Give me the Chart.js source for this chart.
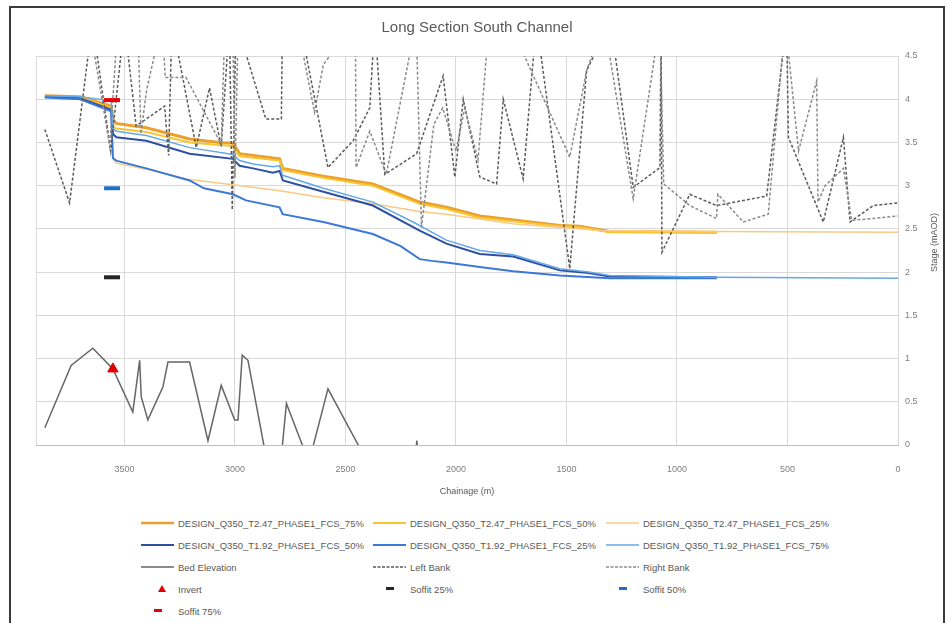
<!DOCTYPE html>
<html>
<head>
<meta charset="utf-8">
<script src="https://cdn.jsdelivr.net/npm/chart.js@4"></script>
<style>
  html, body { margin: 0; padding: 0; background: #fff; }
  body { width: 950px; height: 623px; overflow: hidden; position: relative; font-family: "Liberation Sans", Arial, sans-serif; }
  #frame { position: absolute; left: 9px; top: 6px; width: 936px; height: 640px; border: 2px solid #3a3a3a; box-sizing: border-box; }
  #chart { position: absolute; left: 0; top: 0; }
  .item { position: absolute; height: 14px; display: flex; align-items: center; font-size: 9.5px; color: #595959; white-space: nowrap; }
  .item svg { position: absolute; }
</style>
</head>
<body>
<div id="frame"></div>
<canvas id="chart" width="950" height="500"></canvas>
<div id="legend"></div>
<script>
// chainage (m) / stage (mAOD)
const t247_75_ch = [3860, 3700, 3560, 3550, 3537, 3401, 3205, 3069, 3009, 2979, 2798, 2784, 2600, 2377, 2164, 2043, 1892, 1530, 1440, 1304, 820];
const t247_75_st = [4.04, 4.03, 3.92, 3.76, 3.72, 3.67, 3.54, 3.50, 3.49, 3.37, 3.31, 3.20, 3.11, 3.02, 2.81, 2.75, 2.65, 2.54, 2.53, 2.47, 2.46];

const t247_50_ch = [3860, 3700, 3560, 3550, 3537, 3401, 3205, 3069, 3009, 2979, 2798, 2784, 2600, 2377, 2164, 2043, 1892, 1530, 1440, 1304, 820];
const t247_50_st = [4.03, 4.02, 3.90, 3.68, 3.66, 3.62, 3.50, 3.47, 3.46, 3.34, 3.29, 3.18, 3.09, 3.00, 2.79, 2.73, 2.63, 2.53, 2.52, 2.46, 2.46];

const t247_25_ch = [3860, 3700, 3560, 3550, 3537, 3401, 3205, 3009, 2798, 2600, 2376, 2164, 2043, 1742, 1349, 1000, 820, 0];
const t247_25_st = [4.02, 4.00, 3.87, 3.30, 3.26, 3.19, 3.07, 3.01, 2.94, 2.86, 2.79, 2.70, 2.67, 2.56, 2.48, 2.47, 2.47, 2.46];

const t192_50_ch = [3860, 3700, 3560, 3552, 3537, 3401, 3205, 3009, 2979, 2918, 2828, 2798, 2783, 2600, 2376, 2164, 2043, 1892, 1741, 1530, 1400, 1304, 820];
const t192_50_st = [4.03, 4.01, 3.88, 3.60, 3.56, 3.52, 3.37, 3.31, 3.23, 3.20, 3.15, 3.17, 3.06, 2.93, 2.77, 2.48, 2.33, 2.21, 2.18, 2.02, 1.99, 1.95, 1.94];

const t192_25_ch = [3860, 3700, 3560, 3552, 3537, 3401, 3205, 3140, 3009, 2950, 2798, 2784, 2600, 2376, 2250, 2164, 2110, 2043, 1892, 1741, 1530, 1304, 820];
const t192_25_st = [4.02, 4.00, 3.86, 3.32, 3.29, 3.20, 3.06, 2.97, 2.90, 2.83, 2.75, 2.67, 2.58, 2.44, 2.30, 2.15, 2.13, 2.11, 2.06, 2.01, 1.96, 1.93, 1.93];

const t192_75_ch = [3860, 3700, 3560, 3552, 3537, 3401, 3205, 3009, 2979, 2918, 2828, 2798, 2784, 2600, 2376, 2194, 2043, 1892, 1741, 1530, 1400, 1304, 820, 0];
const t192_75_st = [4.04, 4.03, 3.98, 3.66, 3.63, 3.58, 3.44, 3.36, 3.29, 3.25, 3.22, 3.23, 3.12, 2.97, 2.81, 2.58, 2.37, 2.25, 2.20, 2.04, 2.00, 1.96, 1.94, 1.93];

const bed_ch = [3860, 3741, 3643, 3552, 3462, 3431, 3424, 3394, 3326, 3303, 3205, 3122, 3062, 3001, 2986, 2967, 2941, 2840, 2800, 2767, 2665, 2579, 2400, 2190, 2177, 2165, 2000, 1000, 0];
const bed_st = [0.20, 0.92, 1.12, 0.88, 0.38, 0.98, 0.56, 0.29, 0.67, 0.96, 0.96, 0.05, 0.69, 0.29, 0.29, 1.04, 0.98, -0.40, -0.40, 0.48, -0.20, 0.65, -0.20, -0.30, 0.05, -0.30, -0.50, -0.60, -0.60];

const leftBank_ch = [3860, 3748, 3645, 3562, 3500, 3447, 3318, 3300, 3285, 3175, 3115, 3062, 3025, 3012, 2995, 2860, 2790, 2785, 2707, 2579, 2465, 2390, 2367, 2322, 2178, 2058, 2005, 1967, 1892, 1816, 1786, 1696, 1636, 1485, 1409, 1300, 1198, 1077, 1072, 1068, 942, 821, 594, 504, 496, 338, 247, 217, 112, 0];
const leftBank_st = [3.65, 2.80, 4.90, 3.40, 4.90, 3.69, 3.92, 3.35, 4.90, 3.44, 4.13, 3.45, 4.90, 2.72, 4.90, 3.77, 3.77, 4.90, 4.90, 3.21, 3.52, 3.90, 4.90, 3.13, 3.37, 4.27, 3.10, 4.00, 3.10, 3.02, 4.00, 3.08, 4.90, 2.04, 4.33, 4.90, 2.98, 3.21, 4.90, 2.23, 2.90, 2.77, 2.88, 4.90, 3.56, 2.58, 3.56, 2.58, 2.77, 2.80];

const rightBank_ch = [3860, 3660, 3566, 3530, 3440, 3425, 3400, 3330, 3315, 3221, 3062, 3045, 3010, 3000, 2985, 2900, 2720, 2640, 2600, 2455, 2452, 2390, 2315, 2180, 2156, 2100, 2060, 2000, 1960, 1900, 1850, 1760, 1485, 1409, 1330, 1198, 1077, 1060, 942, 821, 815, 700, 587, 510, 450, 368, 362, 330, 247, 210, 112, 0];
const rightBank_st = [4.90, 4.90, 3.45, 4.90, 4.90, 3.60, 4.10, 4.90, 4.25, 4.25, 3.48, 4.90, 4.90, 3.09, 4.90, 4.90, 4.90, 3.85, 4.40, 4.90, 3.21, 3.63, 3.13, 4.90, 2.52, 3.71, 3.90, 3.40, 3.90, 3.30, 4.90, 4.90, 3.33, 4.33, 4.90, 2.85, 4.90, 3.02, 2.77, 2.62, 2.90, 2.58, 2.67, 4.90, 3.40, 4.21, 2.81, 3.00, 3.20, 2.60, 2.62, 2.65];

const invert_ch = [3552];
const invert_st = [0.88];
const soffit25_ch = [3556];
const soffit25_st = [1.94];
const soffit50_ch = [3556];
const soffit50_st = [2.97];
const soffit75_ch = [3556];
const soffit75_st = [3.99];

const xTicks = [0, 500, 1000, 1500, 2000, 2500, 3000, 3500];

Chart.defaults.font.family = '"Liberation Sans", Arial, sans-serif';
Chart.defaults.color = '#595959';

function pts(ch, st) {
  return ch.map((c, i) => ({ x: c, y: st[i] }));
}

function lineSet(label, ch, st, color, width, dash) {
  return {
    label: label,
    data: pts(ch, st),
    borderColor: color,
    backgroundColor: color,
    borderWidth: width,
    borderDash: dash || [],
    pointRadius: 0,
    pointHoverRadius: 0,
    tension: 0,
    fill: false
  };
}

function markerSet(label, ch, st, color, style, radius, bw) {
  return {
    label: label,
    data: pts(ch, st),
    showLine: false,
    pointStyle: style,
    pointRadius: radius,
    pointHoverRadius: radius,
    pointBorderWidth: bw,
    pointBackgroundColor: color,
    pointBorderColor: color,
    borderColor: color,
    backgroundColor: color
  };
}

const datasets = [
  lineSet('DESIGN_Q350_T2.47_PHASE1_FCS_75%', t247_75_ch, t247_75_st, '#EBA02C', 3),
  lineSet('DESIGN_Q350_T2.47_PHASE1_FCS_50%', t247_50_ch, t247_50_st, '#F7C531', 2),
  lineSet('DESIGN_Q350_T2.47_PHASE1_FCS_25%', t247_25_ch, t247_25_st, '#F7CB84', 1.5),
  lineSet('DESIGN_Q350_T1.92_PHASE1_FCS_50%', t192_50_ch, t192_50_st, '#2E4FA3', 2),
  lineSet('DESIGN_Q350_T1.92_PHASE1_FCS_25%', t192_25_ch, t192_25_st, '#3B78D8', 2),
  lineSet('DESIGN_Q350_T1.92_PHASE1_FCS_75%', t192_75_ch, t192_75_st, '#64A8E8', 1.5),
  lineSet('Bed Elevation', bed_ch, bed_st, '#666666', 1.5),
  lineSet('Left Bank', leftBank_ch, leftBank_st, '#5a5a5a', 1.5, [3, 2]),
  lineSet('Right Bank', rightBank_ch, rightBank_st, '#8a8a8a', 1.5, [3, 2]),
  markerSet('Invert', invert_ch, invert_st, '#E00000', 'triangle', 6, 1),
  markerSet('Soffit 25%', soffit25_ch, soffit25_st, '#262626', 'line', 8, 4),
  markerSet('Soffit 50%', soffit50_ch, soffit50_st, '#1F6FC4', 'line', 8, 4),
  markerSet('Soffit 75%', soffit75_ch, soffit75_st, '#E8000B', 'line', 8, 4)
];
// later series drawn on top, as in the spreadsheet
datasets.forEach((d, i) => { d.order = datasets.length - i; });

const stageTitle = {
  id: 'stageTitle',
  afterDraw(chart) {
    const ctx = chart.ctx;
    const area = chart.chartArea;
    ctx.save();
    ctx.translate(chart.scales.y.right + 17, (area.top + area.bottom) / 2 - 8);
    ctx.rotate(-Math.PI / 2);
    ctx.font = '9px "Liberation Sans", Arial, sans-serif';
    ctx.fillStyle = '#595959';
    ctx.textAlign = 'center';
    ctx.textBaseline = 'middle';
    ctx.fillText('Stage (mAOD)', 0, 0);
    ctx.restore();
  }
};

const chart = new Chart(document.getElementById('chart'), {
  type: 'line',
  data: { datasets: datasets },
  plugins: [stageTitle],
  options: {
    responsive: false,
    animation: false,
    events: [],
    layout: { padding: { left: 36, right: 32, top: 0, bottom: 0 } },
    plugins: {
      legend: { display: false },
      tooltip: { enabled: false },
      title: {
        display: true,
        text: 'Long Section South Channel',
        color: '#595959',
        font: { size: 15, weight: 'normal' },
        padding: { top: 19, bottom: 19 }
      }
    },
    scales: {
      x: {
        type: 'linear',
        reverse: true,
        min: 0,
        max: 3900,
        afterBuildTicks(scale) {
          scale.ticks = xTicks.concat([3900]).map(v => ({ value: v }));
        },
        afterFit(scale) { scale.height = 55; },
        ticks: {
          color: '#7f7f7f',
          font: { size: 9 },
          padding: 19,
          autoSkip: false,
          maxRotation: 0,
          callback: v => (xTicks.includes(v) ? String(v) : '')
        },
        grid: { color: '#d9d9d9', drawTicks: false },
        border: { color: '#bfbfbf' },
        title: {
          display: true,
          text: 'Chainage (m)',
          color: '#595959',
          font: { size: 9 },
          padding: { top: 0, bottom: 3 }
        }
      },
      y: {
        position: 'right',
        min: 0,
        max: 4.5,
        afterFit(scale) { scale.width = 20; },
        ticks: {
          stepSize: 0.5,
          color: '#7f7f7f',
          font: { size: 9 },
          padding: 7,
          callback: v => String(Math.round(v * 10) / 10)
        },
        grid: { color: '#d9d9d9', drawTicks: false },
        border: { display: false }
      }
    }
  }
});

// legend laid out in three columns like the original
const legendCols = [178, 410, 643];
const legendRows = [523, 545, 567, 589, 611];
const legendBox = document.getElementById('legend');
datasets.forEach((d, i) => {
  const col = i % 3;
  const row = Math.floor(i / 3);
  const item = document.createElement('div');
  item.className = 'item';
  item.style.left = (legendCols[col] - 37) + 'px';
  item.style.top = (legendRows[row] - 7) + 'px';
  let sw;
  if (d.showLine === false) {
    if (d.pointStyle === 'triangle') {
      sw = '<polygon points="21,3 25,10 17,10" fill="' + d.pointBackgroundColor + '"/>';
    } else {
      sw = '<rect x="13" y="5" width="8" height="3" fill="' + d.pointBorderColor + '"/>';
    }
  } else {
    const dash = d.borderDash.length ? ' stroke-dasharray="3,1.5"' : '';
    sw = '<line x1="0" y1="7" x2="33" y2="7" stroke="' + d.borderColor + '" stroke-width="' + Math.min(d.borderWidth, 2.5) + '"' + dash + '/>';
  }
  item.innerHTML = '<svg width="34" height="14" style="left:0;top:0">' + sw + '</svg>' +
    '<span style="margin-left:37px">' + d.label + '</span>';
  legendBox.appendChild(item);
});
</script>
</body>
</html>
